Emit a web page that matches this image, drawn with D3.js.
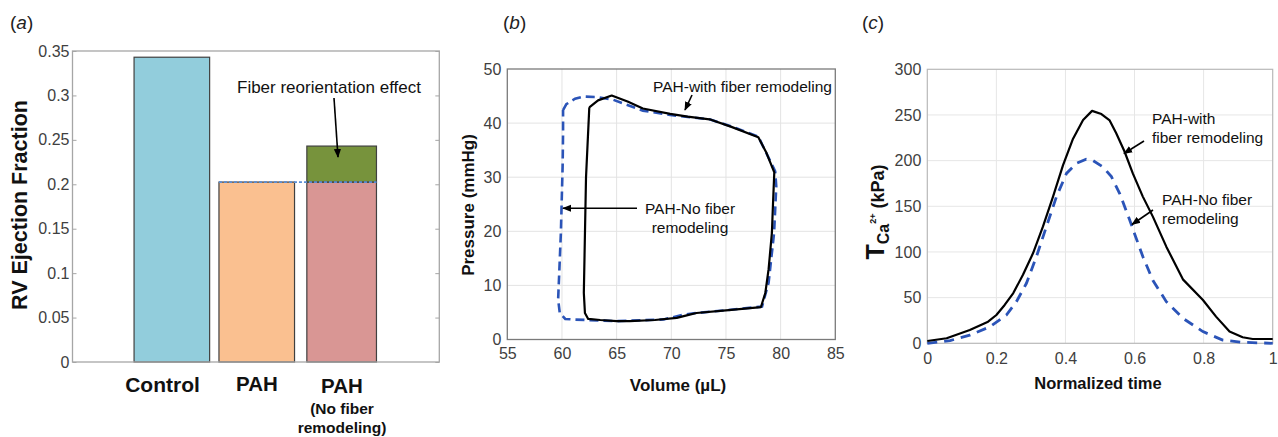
<!DOCTYPE html>
<html><head><meta charset="utf-8">
<script src="https://cdn.jsdelivr.net/npm/d3@7"></script>
<style>
html,body{margin:0;padding:0;background:#fff;}
svg{display:block;font-family:"Liberation Sans",Arial,sans-serif;}
</style></head>
<body>
<svg id="chart" width="1278" height="437"></svg>
<script>
// ---------- Panel (a) data ----------
const barCategories = ["Control", "PAH", "PAH-no"];
const barPositions = [1, 2, 3];
const barBase = [0.343, 0.2025, 0.2025];
const barEffect = [0, 0, 0.0405];      // fiber reorientation effect (stacked)
const barColors = ["#92CDDC", "#FAC090", "#D99694"];
const effectColor = "#77933C";
const aTicks = [0, 0.05, 0.1, 0.15, 0.2, 0.25, 0.3, 0.35];
const aTickLabels = ["0", "0.05", "0.1", "0.15", "0.2", "0.25", "0.3", "0.35"];

// ---------- Panel (b) data: PV loops ----------
const pvWithVol = [62.5, 63.3, 64.55, 66.0, 67.4, 69.9, 71.5, 73.5, 75.5, 77.96, 78.7, 79.42, 79.3, 79.2, 78.9, 78.6, 78.2, 75.0, 72.3, 71.5, 70.5, 68.5, 66.2, 65.0, 63.5, 62.4, 62.1, 62.0, 62.2, 62.5];
const pvWithP   = [42.9, 44.2, 45.1, 44.0, 42.7, 41.7, 41.2, 40.7, 39.3, 37.4, 34.5, 30.9, 25.0, 19.7, 13.0, 8.6, 6.0, 5.4, 4.9, 4.5, 4.0, 3.6, 3.4, 3.4, 3.6, 3.8, 4.9, 8.6, 30.0, 42.9];
const pvNoVol = [60.1, 60.4, 61.2, 62.0, 63.2, 64.7, 67.4, 69.9, 73.5, 75.5, 77.96, 79.5, 79.6, 79.4, 78.9, 78.3, 75.0, 72.3, 71.1, 69.3, 65.0, 62.3, 61.0, 60.3, 59.8, 59.65, 59.9, 60.06, 60.1, 60.1];
const pvNoP   = [42.4, 43.5, 44.5, 44.9, 44.8, 44.3, 42.3, 41.5, 40.7, 39.4, 37.5, 31.1, 28.3, 19.7, 10.5, 6.1, 5.4, 4.9, 4.6, 3.7, 3.4, 3.6, 3.7, 3.8, 4.9, 7.4, 19.7, 32.0, 38.1, 42.4];
const bXTicks = [55, 60, 65, 70, 75, 80, 85];
const bYTicks = [0, 10, 20, 30, 40, 50];

// ---------- Panel (c) data: active tension ----------
const tWithT = [0, 0.056, 0.123, 0.176, 0.2, 0.224, 0.249, 0.277, 0.306, 0.335, 0.364, 0.393, 0.422, 0.451, 0.477, 0.504, 0.528, 0.547, 0.571, 0.595, 0.624, 0.653, 0.692, 0.74, 0.798, 0.836, 0.875, 0.913, 0.942, 1.0];
const tWithV = [2.5, 5.5, 14.6, 23.7, 31, 42, 55, 75, 98.5, 128, 160.6, 195, 224, 244.5, 254.5, 251, 244, 230, 210, 186, 160.6, 138.7, 105.8, 70, 47.4, 29.2, 12.8, 6.6, 4.7, 4.7];
const tNoT = [0, 0.066, 0.123, 0.181, 0.229, 0.258, 0.287, 0.316, 0.345, 0.374, 0.403, 0.432, 0.46, 0.48, 0.509, 0.533, 0.557, 0.586, 0.6, 0.624, 0.653, 0.692, 0.74, 0.798, 0.855, 0.913, 1.0];
const tNoV = [0, 3, 9, 18, 31, 45.6, 65.7, 95, 128, 160.6, 186, 197, 201.5, 200, 193, 182.5, 164, 135, 120, 95, 69, 45.6, 27.4, 12.8, 3.6, 1.1, 0];
const cXTicks = [0, 0.2, 0.4, 0.6, 0.8, 1];
const cYTicks = [0, 50, 100, 150, 200, 250, 300];

const svg = d3.select("#chart");
const defs = svg.append("defs");
defs.append("marker").attr("id", "arr").attr("viewBox", "0 0 10 10")
  .attr("refX", 9).attr("refY", 5).attr("markerWidth", 9).attr("markerHeight", 9)
  .attr("markerUnits", "userSpaceOnUse").attr("orient", "auto")
  .append("path").attr("d", "M0,1 L10,5 L0,9 Z").attr("fill", "#000");

const tickColor = "#404040";
function styleAxis(g) {
  g.select(".domain").remove();
  g.selectAll("text").attr("font-size", 16).attr("fill", tickColor)
    .attr("font-family", "'Liberation Sans', Arial, sans-serif");
}
function arrow(x1, y1, x2, y2) {
  svg.append("line").attr("x1", x1).attr("y1", y1).attr("x2", x2).attr("y2", y2)
    .attr("stroke", "#000").attr("stroke-width", 1.6).attr("marker-end", "url(#arr)");
}
function panelLabel(x, y, ch) {
  const t = svg.append("text").attr("x", x).attr("y", y).attr("font-size", 19).attr("fill", "#222");
  t.append("tspan").text("(");
  t.append("tspan").attr("font-style", "italic").text(ch);
  t.append("tspan").text(")");
}

// ================= Panel (a) =================
{
  const L = 72.5, R = 439.3, T = 51, B = 362;
  const x = d3.scaleLinear().domain([-0.17, 4.15]).range([L, R]);
  const y = d3.scaleLinear().domain([0, 0.35]).range([B, T]);
  const widths = [0.89, 0.89, 0.82];

  // bars
  barCategories.forEach((c, i) => {
    const xc = x(barPositions[i]);
    const w = x(widths[i]) - x(0);
    svg.append("rect").attr("x", xc - w / 2).attr("y", y(barBase[i]))
      .attr("width", w).attr("height", y(0) - y(barBase[i]))
      .attr("fill", barColors[i]).attr("stroke", "#404040").attr("stroke-width", 1.2);
    if (barEffect[i] > 0) {
      svg.append("rect").attr("x", xc - w / 2).attr("y", y(barBase[i] + barEffect[i]))
        .attr("width", w).attr("height", y(barBase[i]) - y(barBase[i] + barEffect[i]))
        .attr("fill", effectColor).attr("stroke", "#404040").attr("stroke-width", 1.2);
    }
  });
  // reference dashed line at PAH level
  const w1 = x(widths[1]) - x(0), w2 = x(widths[2]) - x(0);
  svg.append("line").attr("x1", x(barPositions[1]) - w1 / 2).attr("x2", x(barPositions[2]) + w2 / 2)
    .attr("y1", y(barBase[1])).attr("y2", y(barBase[1]))
    .attr("stroke", "#5B8FD6").attr("stroke-width", 1.8).attr("stroke-dasharray", "3,2");

  // frame
  svg.append("rect").attr("x", L).attr("y", T).attr("width", R - L).attr("height", B - T)
    .attr("fill", "none").attr("stroke", "#a6a6a6").attr("stroke-width", 1.3);
  const ay = svg.append("g").attr("transform", `translate(${L},0)`)
    .call(d3.axisLeft(y).tickValues(aTicks).tickFormat((d, i) => aTickLabels[i]).tickSizeInner(-4).tickSizeOuter(0).tickPadding(3));
  styleAxis(ay);
  ay.selectAll("line").attr("stroke", "#a6a6a6");
  const ay2 = svg.append("g").attr("transform", `translate(${R},0)`)
    .call(d3.axisRight(y).tickValues(aTicks).tickFormat("").tickSizeInner(-4).tickSizeOuter(0));
  ay2.select(".domain").remove();
  ay2.selectAll("line").attr("stroke", "#a6a6a6");

  // category labels
  svg.append("text").attr("x", 162.5).attr("y", 392).attr("text-anchor", "middle")
    .attr("font-size", 21).attr("font-weight", "bold").attr("fill", "#111").text("Control");
  svg.append("text").attr("x", 257).attr("y", 391).attr("text-anchor", "middle")
    .attr("font-size", 20.5).attr("font-weight", "bold").attr("fill", "#111").text("PAH");
  svg.append("text").attr("x", 342).attr("y", 393).attr("text-anchor", "middle")
    .attr("font-size", 20.5).attr("font-weight", "bold").attr("fill", "#111").text("PAH");
  svg.append("text").attr("x", 342).attr("y", 414).attr("text-anchor", "middle")
    .attr("font-size", 15.5).attr("font-weight", "bold").attr("fill", "#111").text("(No fiber");
  svg.append("text").attr("x", 342).attr("y", 433).attr("text-anchor", "middle")
    .attr("font-size", 15.5).attr("font-weight", "bold").attr("fill", "#111").text("remodeling)");

  // y title
  svg.append("text").attr("transform", "translate(27,205) rotate(-90)").attr("text-anchor", "middle")
    .attr("font-size", 21.5).attr("font-weight", "bold").attr("fill", "#111").text("RV Ejection Fraction");

  // annotation
  svg.append("text").attr("x", 237).attr("y", 93).attr("font-size", 17).attr("fill", "#111")
    .text("Fiber reorientation effect");
  arrow(334, 98, 338, 157);

  panelLabel(10, 29, "a");
}

// ================= Panel (b) =================
{
  const L = 507.3, R = 835.3, T = 69, B = 339.5;
  const x = d3.scaleLinear().domain([55, 85]).range([L, R]);
  const y = d3.scaleLinear().domain([0, 50]).range([B, T]);
  const grid = svg.append("g");
  bXTicks.slice(1, -1).forEach(v => grid.append("line").attr("x1", x(v)).attr("x2", x(v)).attr("y1", T).attr("y2", B)
    .attr("stroke", "#e3e3e3").attr("stroke-width", 1));
  bYTicks.slice(1, -1).forEach(v => grid.append("line").attr("y1", y(v)).attr("y2", y(v)).attr("x1", L).attr("x2", R)
    .attr("stroke", "#e3e3e3").attr("stroke-width", 1));

  const line = d3.line().x(d => x(d[0])).y(d => y(d[1]));
  svg.append("path").datum(pvNoVol.map((v, i) => [v, pvNoP[i]])).attr("d", line)
    .attr("fill", "none").attr("stroke", "#2B54B8").attr("stroke-width", 2.6).attr("stroke-dasharray", "9,5");
  svg.append("path").datum(pvWithVol.map((v, i) => [v, pvWithP[i]])).attr("d", line)
    .attr("fill", "none").attr("stroke", "#000").attr("stroke-width", 2.2).attr("stroke-linejoin", "round");

  svg.append("rect").attr("x", L).attr("y", T).attr("width", R - L).attr("height", B - T)
    .attr("fill", "none").attr("stroke", "#7a7a7a").attr("stroke-width", 1.3);
  const ax = svg.append("g").attr("transform", `translate(0,${B})`)
    .call(d3.axisBottom(x).tickValues(bXTicks).tickSize(0).tickPadding(8));
  styleAxis(ax);
  const ay = svg.append("g").attr("transform", `translate(${L},0)`)
    .call(d3.axisLeft(y).tickValues(bYTicks).tickSize(0).tickPadding(6));
  styleAxis(ay);

  svg.append("text").attr("transform", "translate(474,205) rotate(-90)").attr("text-anchor", "middle")
    .attr("font-size", 17).attr("font-weight", "bold").attr("fill", "#111").text("Pressure (mmHg)");
  svg.append("text").attr("x", 678).attr("y", 391).attr("text-anchor", "middle")
    .attr("font-size", 17).attr("font-weight", "bold").attr("fill", "#111").text("Volume (\u00B5L)");

  svg.append("text").attr("x", 653).attr("y", 92).attr("font-size", 15.5).attr("fill", "#111")
    .text("PAH-with fiber remodeling");
  arrow(692, 95, 685, 110);
  svg.append("text").attr("x", 690).attr("y", 214).attr("text-anchor", "middle").attr("font-size", 15.5).attr("fill", "#111")
    .text("PAH-No fiber");
  svg.append("text").attr("x", 690).attr("y", 233).attr("text-anchor", "middle").attr("font-size", 15.5).attr("fill", "#111")
    .text("remodeling");
  arrow(637, 208.3, 563, 208.3);

  panelLabel(503, 29, "b");
}

// ================= Panel (c) =================
{
  const L = 927.3, R = 1272.7, T = 69.3, B = 343.3;
  const x = d3.scaleLinear().domain([0, 1]).range([L, R]);
  const y = d3.scaleLinear().domain([0, 300]).range([B, T]);
  const grid = svg.append("g");
  cXTicks.slice(1, -1).forEach(v => grid.append("line").attr("x1", x(v)).attr("x2", x(v)).attr("y1", T).attr("y2", B)
    .attr("stroke", "#e6e6e6").attr("stroke-width", 1));
  cYTicks.slice(1, -1).forEach(v => grid.append("line").attr("y1", y(v)).attr("y2", y(v)).attr("x1", L).attr("x2", R)
    .attr("stroke", "#e6e6e6").attr("stroke-width", 1));

  svg.append("rect").attr("x", L).attr("y", T).attr("width", R - L).attr("height", B - T)
    .attr("fill", "none").attr("stroke", "#b8b8b8").attr("stroke-width", 1.2);

  const line = d3.line().x(d => x(d[0])).y(d => y(d[1]));
  svg.append("path").datum(tNoT.map((v, i) => [v, tNoV[i]])).attr("d", line)
    .attr("fill", "none").attr("stroke", "#2B54B8").attr("stroke-width", 2.8).attr("stroke-dasharray", "10,7");
  svg.append("path").datum(tWithT.map((v, i) => [v, tWithV[i]])).attr("d", line)
    .attr("fill", "none").attr("stroke", "#000").attr("stroke-width", 2.2).attr("stroke-linejoin", "round");

  const ax = svg.append("g").attr("transform", `translate(0,${B})`)
    .call(d3.axisBottom(x).tickValues(cXTicks).tickFormat(d => d === 0 ? "0" : d === 1 ? "1" : d3.format(".1f")(d)).tickSize(0).tickPadding(9));
  styleAxis(ax);
  const ay = svg.append("g").attr("transform", `translate(${L},0)`)
    .call(d3.axisLeft(y).tickValues(cYTicks).tickSize(0).tickPadding(6));
  styleAxis(ay);

  // y title T_Ca2+ (kPa)
  const yt = svg.append("text").attr("transform", "translate(884,212) rotate(-90)").attr("text-anchor", "middle")
    .attr("font-weight", "bold").attr("fill", "#111");
  yt.append("tspan").attr("font-size", 25).text("T");
  yt.append("tspan").attr("font-size", 16).attr("dy", 5).text("Ca");
  yt.append("tspan").attr("font-size", 9).attr("dy", -13).text("2+");
  yt.append("tspan").attr("font-size", 18).attr("dy", 8).text(" (kPa)");

  svg.append("text").attr("x", 1098).attr("y", 389).attr("text-anchor", "middle")
    .attr("font-size", 16.5).attr("font-weight", "bold").attr("fill", "#111").text("Normalized time");

  svg.append("text").attr("x", 1152).attr("y", 124).attr("font-size", 15.5).attr("fill", "#111").text("PAH-with");
  svg.append("text").attr("x", 1152).attr("y", 143).attr("font-size", 15.5).attr("fill", "#111").text("fiber remodeling");
  arrow(1144, 141, 1124, 153.5);
  svg.append("text").attr("x", 1162).attr("y", 204.5).attr("font-size", 15.5).attr("fill", "#111").text("PAH-No fiber");
  svg.append("text").attr("x", 1162).attr("y", 224).attr("font-size", 15.5).attr("fill", "#111").text("remodeling");
  arrow(1153, 210, 1132, 224.5);

  panelLabel(862, 29, "c");
}
</script>
</body></html>
